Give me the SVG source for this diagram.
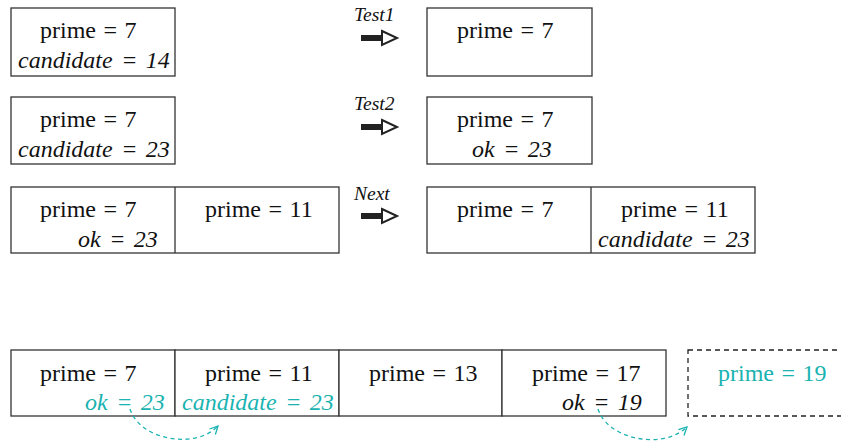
<svg xmlns="http://www.w3.org/2000/svg" width="841" height="443" viewBox="0 0 841 443">
<defs>
<style>
.box{fill:#fff;stroke:#333;stroke-width:1.3}
.div{stroke:#333;stroke-width:1.3}
.dbox{fill:none;stroke:#222;stroke-width:1.3;stroke-dasharray:5,4}
.t{font-family:"Liberation Serif","Times New Roman",serif;font-size:24px;fill:#111;word-spacing:1.5px}
.i{font-style:italic;word-spacing:2.5px}
.c{fill:#1ab3b1}
.lbl{font-family:"Liberation Serif","Times New Roman",serif;font-size:19.5px;font-style:italic;fill:#111}
.sh{fill:#222}
.hd{fill:#fff;stroke:#222;stroke-width:2}
.curve{fill:none;stroke:#1ab3b1;stroke-width:1.3;stroke-dasharray:4,3.5}
</style>
<marker id="ah" viewBox="0 0 10 10" refX="9" refY="5" markerWidth="10" markerHeight="10" markerUnits="userSpaceOnUse" orient="auto">
<path d="M1,1 L9,5 L1,9" fill="none" stroke="#1ab3b1" stroke-width="1.3"/>
</marker>
</defs>
<rect width="841" height="443" fill="#fff"/>

<g id="r1-left">
<rect class="box" x="11" y="8" width="164" height="68"/>
<text class="t" x="40" y="38">prime = 7</text>
<text class="t i" x="18" y="68">candidate = 14</text>
</g>
<g id="r1-op">
<text class="lbl" x="354" y="21">Test1</text>
<rect class="sh" x="361" y="35" width="22" height="6"/>
<path class="hd" d="M382,31 L397,38 L382,45 Z"/>
</g>
<g id="r1-right">
<rect class="box" x="427" y="8" width="165" height="68"/>
<text class="t" x="457" y="38">prime = 7</text>
</g>

<g id="r2-left">
<rect class="box" x="11" y="97" width="164" height="67"/>
<text class="t" x="40" y="127">prime = 7</text>
<text class="t i" x="18" y="157">candidate = 23</text>
</g>
<g id="r2-op">
<text class="lbl" x="354" y="110">Test2</text>
<rect class="sh" x="361" y="124" width="22" height="6"/>
<path class="hd" d="M382,120 L397,127 L382,134 Z"/>
</g>
<g id="r2-right">
<rect class="box" x="427" y="97" width="165" height="67"/>
<text class="t" x="457" y="127">prime = 7</text>
<text class="t i" x="472" y="157">ok = 23</text>
</g>

<g id="r3-left">
<rect class="box" x="11" y="187" width="328" height="66"/>
<line class="div" x1="175" y1="187" x2="175" y2="253"/>
<text class="t" x="40" y="217">prime = 7</text>
<text class="t i" x="78" y="247">ok = 23</text>
<text class="t" x="205" y="217">prime = 11</text>
</g>
<g id="r3-op">
<text class="lbl" x="354" y="200">Next</text>
<rect class="sh" x="361" y="213" width="22" height="6"/>
<path class="hd" d="M382,209 L397,216 L382,223 Z"/>
</g>
<g id="r3-right">
<rect class="box" x="427" y="187" width="328" height="66"/>
<line class="div" x1="591" y1="187" x2="591" y2="253"/>
<text class="t" x="457" y="217">prime = 7</text>
<text class="t" x="621" y="217">prime = 11</text>
<text class="t i" x="598" y="247">candidate = 23</text>
</g>

<g id="r4-cell1">
<rect class="box" x="11" y="350" width="164" height="66"/>
<text class="t" x="40" y="381">prime = 7</text>
<text class="t i c" x="85" y="410">ok = 23</text>
</g>
<g id="r4-cell2">
<rect class="box" x="175" y="350" width="164" height="66"/>
<text class="t" x="205" y="381">prime = 11</text>
<text class="t i c" x="182" y="410">candidate = 23</text>
</g>
<g id="r4-cell3">
<rect class="box" x="339" y="350" width="163" height="66"/>
<text class="t" x="369" y="381">prime = 13</text>
</g>
<g id="r4-cell4">
<rect class="box" x="502" y="350" width="164" height="66"/>
<text class="t" x="532" y="381">prime = 17</text>
<text class="t i" x="562" y="410">ok = 19</text>
</g>
<g id="r4-cell5">
<rect class="dbox" x="688" y="350" width="170" height="66"/>
<text class="t c" x="718" y="381">prime = 19</text>
</g>

<g id="connectors">
<path class="curve" d="M130,409 C140,440 195,450 218,426" marker-end="url(#ah)"/>
<path class="curve" d="M598,409 C608,440 663,450 687,427" marker-end="url(#ah)"/>
</g>
</svg>
